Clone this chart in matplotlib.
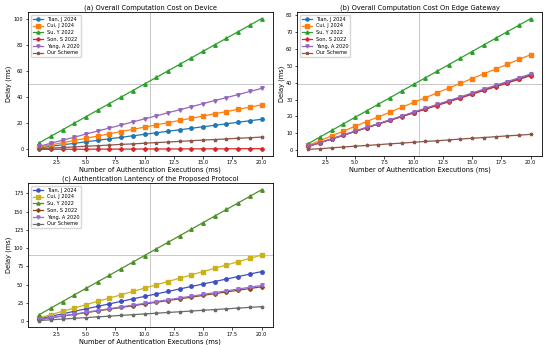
import numpy as np
import matplotlib.pyplot as plt

n_exec = list(range(1, 21))
labels = ["Tian, J 2024", "Cui, J 2024", "Su, Y 2022", "Son, S 2022", "Yang, A 2020", "Our Scheme"]

# (a) device
dev_tian = [1.2, 2.3, 3.5, 4.6, 5.8, 6.9, 8.1, 9.2, 10.4, 11.5, 12.7, 13.8, 15.0, 16.1, 17.3, 18.4, 19.6, 20.7, 21.9, 23.0]
dev_cui = [1.7, 3.4, 5.1, 6.8, 8.5, 10.2, 11.9, 13.6, 15.3, 17.0, 18.7, 20.4, 22.1, 23.8, 25.5, 27.2, 28.9, 30.6, 32.3, 34.0]
dev_su = [5, 10, 15, 20, 25, 30, 35, 40, 45, 50, 55, 60, 65, 70, 75, 80, 85, 90, 95, 100]
dev_son = [0.0, 0.1, 0.1, 0.1, 0.1, 0.2, 0.2, 0.2, 0.2, 0.3, 0.3, 0.3, 0.3, 0.4, 0.4, 0.4, 0.4, 0.5, 0.5, 0.5]
dev_yang = [2.3, 4.7, 7.0, 9.3, 11.7, 14.0, 16.3, 18.6, 21.0, 23.3, 25.6, 28.0, 30.3, 32.6, 35.0, 37.3, 39.6, 41.9, 44.3, 46.6]
dev_our = [0.5, 0.9, 1.4, 1.9, 2.4, 2.8, 3.3, 3.8, 4.2, 4.7, 5.2, 5.6, 6.1, 6.6, 7.1, 7.5, 8.0, 8.5, 8.9, 9.4]

# (b) edge gateway
gw_tian = [2.2, 4.5, 6.7, 8.9, 11.2, 13.4, 15.6, 17.8, 20.1, 22.3, 24.5, 26.8, 29.0, 31.2, 33.5, 35.7, 37.9, 40.1, 42.4, 44.6]
gw_cui = [2.8, 5.7, 8.5, 11.3, 14.2, 17.0, 19.8, 22.6, 25.5, 28.3, 31.1, 34.0, 36.8, 39.6, 42.5, 45.3, 48.1, 50.9, 53.8, 56.6]
gw_su = [3.9, 7.8, 11.7, 15.6, 19.5, 23.4, 27.3, 31.2, 35.1, 39.0, 42.9, 46.8, 50.7, 54.6, 58.5, 62.4, 66.3, 70.2, 74.1, 78.0]
gw_son = [2.2, 4.4, 6.6, 8.8, 11.1, 13.3, 15.5, 17.7, 19.9, 22.1, 24.3, 26.5, 28.7, 30.9, 33.2, 35.4, 37.6, 39.8, 42.0, 44.2]
gw_yang = [2.3, 4.5, 6.8, 9.0, 11.3, 13.6, 15.8, 18.1, 20.3, 22.6, 24.9, 27.1, 29.4, 31.6, 33.9, 36.2, 38.4, 40.7, 42.9, 45.2]
gw_our = [0.5, 0.9, 1.4, 1.9, 2.4, 2.8, 3.3, 3.8, 4.2, 4.7, 5.2, 5.6, 6.1, 6.6, 7.1, 7.5, 8.0, 8.5, 8.9, 9.4]

# (c) authentication latency
au_tian = [3.4, 6.8, 10.2, 13.6, 17.0, 20.4, 23.8, 27.2, 30.6, 34.0, 37.4, 40.8, 44.2, 47.6, 51.0, 54.4, 57.8, 61.2, 64.6, 68.0]
au_cui = [4.5, 9.1, 13.6, 18.1, 22.7, 27.2, 31.7, 36.2, 40.8, 45.3, 49.8, 54.4, 58.9, 63.4, 68.0, 72.5, 77.0, 81.5, 86.1, 90.6]
au_su = [9, 18, 27, 36, 45, 54, 63, 72, 81, 90, 99, 108, 117, 126, 135, 144, 153, 162, 171, 180]
au_son = [2.4, 4.7, 7.1, 9.4, 11.8, 14.2, 16.5, 18.9, 21.2, 23.6, 26.0, 28.3, 30.7, 33.0, 35.4, 37.8, 40.1, 42.5, 44.8, 47.2]
au_yang = [2.5, 4.9, 7.4, 9.8, 12.3, 14.7, 17.2, 19.6, 22.1, 24.5, 27.0, 29.4, 31.9, 34.3, 36.8, 39.2, 41.7, 44.1, 46.6, 49.0]
au_our = [1, 2, 3, 4, 5, 6, 7, 8, 9, 10, 11, 12, 13, 14, 15, 16, 17, 18, 19, 20]

markers = ["o", "s", "^", "P", "v", "*"]
colors_ab = ["#1f77b4", "#ff7f0e", "#2ca02c", "#d62728", "#9467bd", "#8c564b"]
colors_c = ["#3f4fc4", "#c9b21a", "#4f8f2a", "#8b4513", "#9370db", "#6b6b6b"]


def draw(ax, series, colors, title):
    for y, lab, m, c in zip(series, labels, markers, colors):
        ax.plot(n_exec, y, marker=m, color=c, label=lab, ms=2.5, lw=0.9)
    x0, x1 = ax.get_xlim()
    y0, y1 = ax.get_ylim()
    ax.axvline((x0 + x1) / 2, color="#c8c8c8", lw=0.7, zorder=0)
    ax.axhline((y0 + y1) / 2, color="#c8c8c8", lw=0.7, zorder=0)
    ax.set_title(title, fontsize=4.8, pad=2)
    ax.set_xlabel("Number of Authentication Executions (ms)", fontsize=4.8, labelpad=1)
    ax.set_ylabel("Delay (ms)", fontsize=4.8, labelpad=1)
    ax.tick_params(labelsize=3.6, length=1.8, width=0.5, pad=1.5)
    for s in ax.spines.values():
        s.set_linewidth(0.6)
    ax.legend(loc="upper left", fontsize=3.6, handlelength=2, borderpad=0.4,
              labelspacing=0.35, markerscale=0.9)


fig, axes = plt.subplots(2, 2, figsize=(5.5, 3.45), dpi=100)
draw(axes[0, 0], [dev_tian, dev_cui, dev_su, dev_son, dev_yang, dev_our], colors_ab,
     "(a) Overall Computation Cost on Device")
draw(axes[0, 1], [gw_tian, gw_cui, gw_su, gw_son, gw_yang, gw_our], colors_ab,
     "(b) Overall Computation Cost On Edge Gateway")
draw(axes[1, 0], [au_tian, au_cui, au_su, au_son, au_yang, au_our], colors_c,
     "(c) Authentication Lantency of the Proposed Protocol")
axes[1, 1].axis("off")

fig.subplots_adjust(left=0.051, right=0.985, top=0.965, bottom=0.052, wspace=0.1, hspace=0.19)
fig.savefig("out.png", dpi=100)
